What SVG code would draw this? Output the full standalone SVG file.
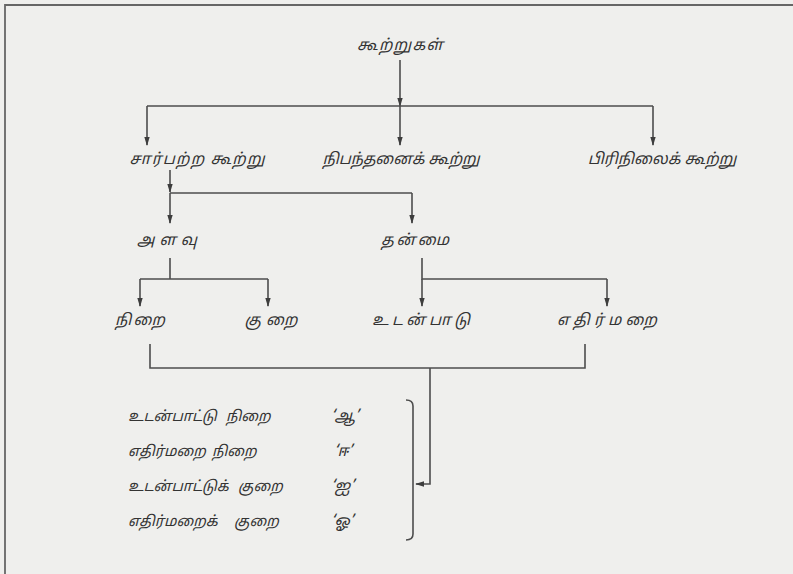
<svg xmlns="http://www.w3.org/2000/svg" width="793" height="574" viewBox="0 0 793 574">
<defs>
<style>
.t{font-family:"Noto Sans Tamil","Lohit Tamil","Noto Sans","DejaVu Sans",sans-serif;font-size:15.5px;font-style:italic;fill:#333;}
.l{font-size:14.5px;}
.m{text-anchor:middle;}
.c{stroke:#4d4d4d;stroke-width:1.6;fill:none;}
</style>
<marker id="ah" viewBox="0 0 10 10" refX="9" refY="5" markerWidth="9" markerHeight="6" orient="auto" markerUnits="userSpaceOnUse" preserveAspectRatio="none">
<path d="M0,0.5 L10,5 L0,9.5 z" fill="#3d3d3d"/>
</marker>
</defs>
<rect x="0" y="0" width="793" height="574" fill="#efefed"/>
<path d="M5,574 V5 H793" stroke="#666" stroke-width="1.8" fill="none"/>
<g id="connectors" class="c">
<path d="M400,60 V106" marker-end="url(#ah)"/>
<path d="M147,106 H653"/>
<path d="M147,106 V145" marker-end="url(#ah)"/>
<path d="M400,106 V145" marker-end="url(#ah)"/>
<path d="M653,106 V145" marker-end="url(#ah)"/>
<path d="M170,170 V192" marker-end="url(#ah)"/>
<path d="M170,193 H412"/>
<path d="M170,193 V223" marker-end="url(#ah)"/>
<path d="M412,193 V223" marker-end="url(#ah)"/>
<path d="M170,258 V279 M140,279 H268"/>
<path d="M140,279 V306" marker-end="url(#ah)"/>
<path d="M268,279 V306" marker-end="url(#ah)"/>
<path d="M422,258 V279 H607"/>
<path d="M422,279 V306" marker-end="url(#ah)"/>
<path d="M607,279 V306" marker-end="url(#ah)"/>
<path d="M150,344 V368 H585 V344"/>
<path d="M430,368 V484 H416" marker-end="url(#ah)"/>
<path d="M406,400 Q413,400 413,406 V534 Q413,540 406,540"/>
</g>
<g id="n-root"><text class="t m" x="400" y="50" textLength="86" lengthAdjust="spacing">கூற்றுகள்</text></g>
<g id="n-sarbatra"><text class="t m" x="197" y="164" textLength="135" lengthAdjust="spacing">சார்பற்ற கூற்று</text></g>
<g id="n-nibandhanai"><text class="t m" x="401" y="164" textLength="157" lengthAdjust="spacing">நிபந்தனைக் கூற்று</text></g>
<g id="n-pirinilai"><text class="t m" x="662" y="164">பிரிநிலைக் கூற்று</text></g>
<g id="n-alavu"><text class="t m" x="167" y="245" textLength="60" lengthAdjust="spacing">அளவு</text></g>
<g id="n-thanmai"><text class="t m" x="415" y="245" textLength="68" lengthAdjust="spacing">தன்மை</text></g>
<g id="n-nirai"><text class="t m" x="140" y="325" textLength="50" lengthAdjust="spacing">நிறை</text></g>
<g id="n-kurai"><text class="t m" x="271" y="325" textLength="53" lengthAdjust="spacing">குறை</text></g>
<g id="n-udanpadu"><text class="t m" x="421" y="325" textLength="98" lengthAdjust="spacing">உடன்பாடு</text></g>
<g id="n-ethirmarai"><text class="t m" x="607" y="325" textLength="100" lengthAdjust="spacing">எதிர்மறை</text></g>
<g id="list">
<text class="t l" x="128" y="421">உடன்பாட்டு</text>
<text class="t l" x="226" y="421">நிறை</text>
<text class="t" x="331" y="421">‘ஆ’</text>
<text class="t l" x="128" y="456">எதிர்மறை</text>
<text class="t l" x="212" y="456">நிறை</text>
<text class="t" x="334" y="456">‘ஈ’</text>
<text class="t l" x="128" y="491">உடன்பாட்டுக்</text>
<text class="t l" x="238" y="491">குறை</text>
<text class="t" x="331" y="491">‘ஐ’</text>
<text class="t l" x="128" y="526">எதிர்மறைக்</text>
<text class="t l" x="234" y="526">குறை</text>
<text class="t" x="331" y="526">‘ஓ’</text>
</g>
</svg>
